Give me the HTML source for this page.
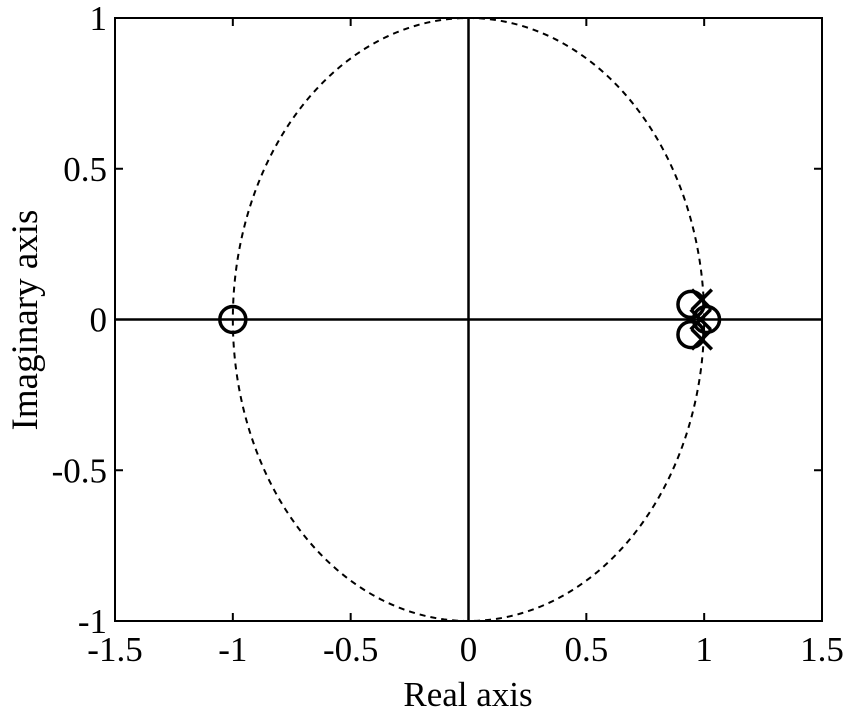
<!DOCTYPE html>
<html><head><meta charset="utf-8"><style>body{margin:0;background:#fff}svg{display:block}text{font-family:"Liberation Serif",serif;font-size:35px;fill:#000}</style></head>
<body>
<svg id="c" width="849" height="719" xmlns="http://www.w3.org/2000/svg"></svg>
<script>
const xTicks=[-1.5,-1,-0.5,0,0.5,1,1.5];
const xTickLabels=["-1.5","-1","-0.5","0","0.5","1","1.5"];
const yTicks=[-1,-0.5,0,0.5,1];
const yTickLabels=["-1","-0.5","0","0.5","1"];
const zerosRe=[-1,0.944,0.944,1.01];
const zerosIm=[0,0.05,-0.05,0];
const polesRe=[0.99,0.99,0.985];
const polesIm=[0.066,-0.066,0];
const L=115,R=822,T=18,B=621;
const sx=v=>L+(v+1.5)/3*(R-L), sy=v=>B-(v+1)/2*(B-T);
const svg=document.getElementById('c');const NS='http://www.w3.org/2000/svg';
function mk(t,a,name,txt){const e=document.createElementNS(NS,t);for(const k in a)e.setAttribute(k,a[k]);


if(txt!==undefined)e.textContent=txt;svg.appendChild(e);return e;}
let d='';for(let i=0;i<=360;i++){const a=i*Math.PI/180;d+=(i?'L':'M')+sx(Math.cos(a)).toFixed(2)+','+sy(Math.sin(a)).toFixed(2);}
mk('path',{d:d,fill:'none',stroke:'#000','stroke-width':2,'stroke-dasharray':'6,5'},'unit-circle');
mk('line',{x1:L,x2:R,y1:sy(0),y2:sy(0),stroke:'#000','stroke-width':2.5},'real-axis-line');
mk('line',{x1:sx(0),x2:sx(0),y1:T,y2:B,stroke:'#000','stroke-width':2.5},'imag-axis-line');
mk('rect',{x:L,y:T,width:R-L,height:B-T,fill:'none',stroke:'#000','stroke-width':2},'plot-frame');
xTicks.forEach((v,i)=>{const x=sx(v);
mk('line',{x1:x,x2:x,y1:B,y2:B-8,stroke:'#000','stroke-width':2},'x-tick');
mk('line',{x1:x,x2:x,y1:T,y2:T+8,stroke:'#000','stroke-width':2},'x-tick-top');
mk('text',{x:x,y:B+40,'text-anchor':'middle'},'x-tick-label',xTickLabels[i]);});
yTicks.forEach((v,i)=>{const y=sy(v);
mk('line',{x1:L,x2:L+8,y1:y,y2:y,stroke:'#000','stroke-width':2},'y-tick');
mk('line',{x1:R,x2:R-8,y1:y,y2:y,stroke:'#000','stroke-width':2},'y-tick-right');
mk('text',{x:L-8,y:y+12,'text-anchor':'end'},'y-tick-label',yTickLabels[i]);});
zerosRe.forEach((r,i)=>mk('circle',{cx:sx(r),cy:sy(zerosIm[i]),r:13,fill:'none',stroke:'#000','stroke-width':3.5},'zero-marker'));
polesRe.forEach((r,i)=>{const x=sx(r),y=sy(polesIm[i]),s=10;
mk('path',{d:`M${x-s},${y-s}L${x+s},${y+s}M${x-s},${y+s}L${x+s},${y-s}`,stroke:'#000','stroke-width':3.5},'pole-marker');});
mk('text',{x:468,y:706,'text-anchor':'middle'},'x-axis-title','Real axis');
mk('text',{x:0,y:0,'text-anchor':'middle',style:'font-size:37px',transform:'translate(37,320) rotate(-90)'},'y-axis-title','Imaginary axis');
</script>
</body></html>
